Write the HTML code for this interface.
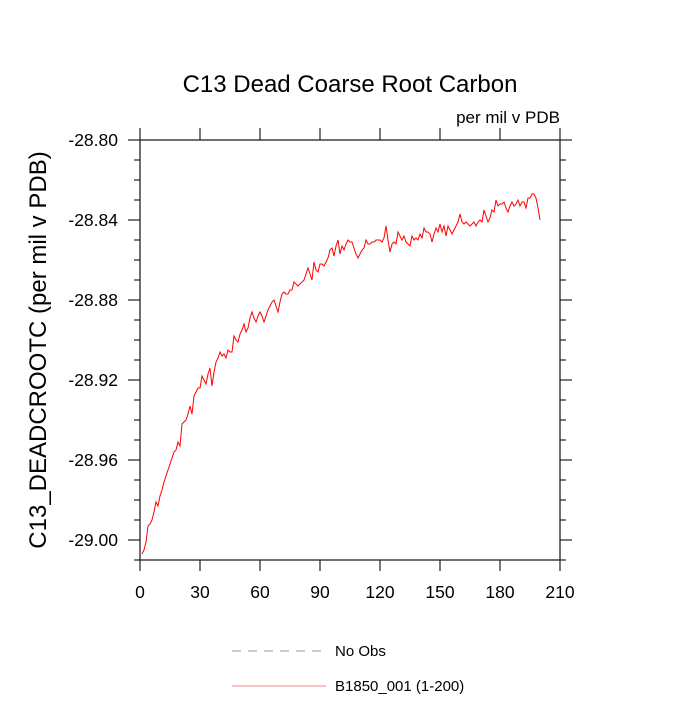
<!DOCTYPE html>
<html><head><meta charset="utf-8"><style>
body{margin:0;background:#fff}
svg text{font-family:"Liberation Sans",sans-serif;fill:#000}
</style></head><body>
<svg id="c" width="700" height="700" xmlns="http://www.w3.org/2000/svg">
<text x="350" y="92" font-size="24" text-anchor="middle">C13 Dead Coarse Root Carbon</text>
<text x="560" y="123" font-size="17" text-anchor="end">per mil v PDB</text>
<text transform="translate(46,350) rotate(-90)" font-size="24" text-anchor="middle">C13_DEADCROOTC  (per mil v PDB)</text>
<g id="axes"></g>
<g id="series"></g>
<line x1="232" y1="651" x2="326" y2="651" stroke="#999" stroke-width="1" stroke-dasharray="9,7"/>
<text x="335" y="656" font-size="15">No Obs</text>
<line x1="232" y1="686" x2="326" y2="686" stroke="#e88" stroke-width="1"/>
<text x="335" y="691" font-size="15">B1850_001 (1-200)</text>
</svg>
<script>
const xTicks=[0,30,60,90,120,150,180,210];
const yTicks=[-28.80,-28.84,-28.88,-28.92,-28.96,-29.00];
const yTickLabels=["-28.80","-28.84","-28.88","-28.92","-28.96","-29.00"];
const values=[-29.007,-29.005,-29.001,-28.993,-28.992,-28.990,-28.986,-28.981,-28.983,-28.978,
-28.975,-28.971,-28.968,-28.965,-28.962,-28.959,-28.956,-28.955,-28.951,-28.953,
-28.942,-28.941,-28.940,-28.937,-28.933,-28.937,-28.928,-28.926,-28.924,-28.924,
-28.918,-28.920,-28.922,-28.917,-28.914,-28.923,-28.916,-28.911,-28.909,-28.906,
-28.908,-28.907,-28.909,-28.905,-28.906,-28.906,-28.898,-28.900,-28.901,-28.897,
-28.895,-28.892,-28.896,-28.894,-28.889,-28.886,-28.889,-28.891,-28.888,-28.886,
-28.888,-28.891,-28.888,-28.885,-28.883,-28.881,-28.880,-28.883,-28.886,-28.881,
-28.877,-28.876,-28.877,-28.877,-28.875,-28.875,-28.871,-28.872,-28.873,-28.872,
-28.871,-28.870,-28.867,-28.864,-28.867,-28.870,-28.861,-28.865,-28.866,-28.862,
-28.862,-28.863,-28.861,-28.859,-28.855,-28.854,-28.858,-28.853,-28.850,-28.857,
-28.853,-28.855,-28.852,-28.850,-28.851,-28.851,-28.854,-28.857,-28.859,-28.857,
-28.855,-28.854,-28.850,-28.852,-28.852,-28.851,-28.851,-28.850,-28.850,-28.850,
-28.851,-28.849,-28.843,-28.850,-28.856,-28.852,-28.851,-28.852,-28.846,-28.848,
-28.850,-28.848,-28.851,-28.852,-28.853,-28.848,-28.850,-28.849,-28.850,-28.847,
-28.849,-28.844,-28.846,-28.846,-28.847,-28.851,-28.847,-28.844,-28.846,-28.842,
-28.846,-28.843,-28.848,-28.843,-28.845,-28.847,-28.845,-28.843,-28.841,-28.837,
-28.841,-28.842,-28.841,-28.842,-28.843,-28.842,-28.841,-28.843,-28.841,-28.840,
-28.841,-28.835,-28.838,-28.841,-28.839,-28.835,-28.836,-28.830,-28.833,-28.832,
-28.832,-28.831,-28.834,-28.836,-28.833,-28.831,-28.833,-28.832,-28.830,-28.833,
-28.831,-28.831,-28.834,-28.829,-28.829,-28.827,-28.827,-28.829,-28.834,-28.840];
const NS="http://www.w3.org/2000/svg";
const L=140,R=560,T=140,B=560;
const YMAX=-28.80,YMIN=-29.01;
const xs=v=>L+(v-0)/(210-0)*(R-L);
const ys=v=>T+(YMAX-v)/(YMAX-YMIN)*(B-T);
const ax=document.getElementById('axes');
function mk(tag,attrs,parent){const e=document.createElementNS(NS,tag);for(const k in attrs)e.setAttribute(k,attrs[k]);parent.appendChild(e);return e;}
const frame=mk('rect',{x:L,y:T,width:R-L,height:B-T,fill:'none',stroke:'#222','stroke-width':1.3},ax);


xTicks.forEach(v=>{const x=xs(v);
const t1=mk('line',{x1:x,y1:B,x2:x,y2:B+11,stroke:'#222','stroke-width':1.2},ax);


const t2=mk('line',{x1:x,y1:T,x2:x,y2:T-12,stroke:'#222','stroke-width':1.2},ax);


const t=mk('text',{x:x,y:598,'font-size':17.5,'text-anchor':'middle'},ax);t.textContent=v;

});
for(let i=0;i<=21;i++){const v=-28.80-i*0.01;const y=ys(v);const len=(i%4===0)?12:6;
const t1=mk('line',{x1:L,y1:y,x2:L-len,y2:y,stroke:'#222','stroke-width':1.2},ax);


const t2=mk('line',{x1:R,y1:y,x2:R+len,y2:y,stroke:'#222','stroke-width':1.2},ax);

}
yTicks.forEach((v,i)=>{const t=mk('text',{x:118,y:ys(v)+6,'font-size':17.5,'text-anchor':'end'},ax);t.textContent=yTickLabels[i];

});
const pts=values.map((v,i)=>xs(i+1).toFixed(1)+','+ys(v).toFixed(1)).join(' ');
const line=mk('polyline',{points:pts,fill:'none',stroke:'#ff0000','stroke-width':1},document.getElementById('series'));


</script>
</body></html>
